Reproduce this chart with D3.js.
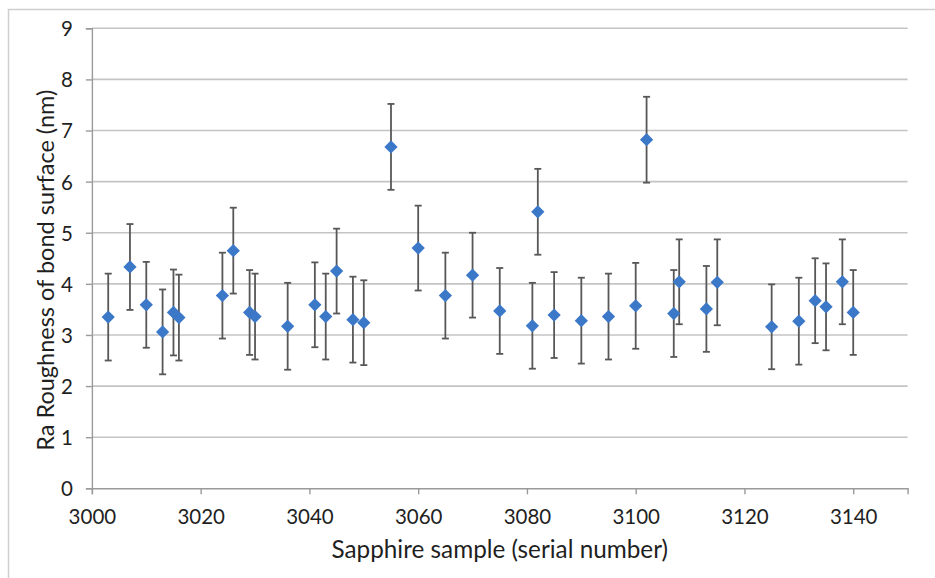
<!DOCTYPE html>
<html>
<head>
<meta charset="utf-8">
<script src="https://cdn.jsdelivr.net/npm/d3@7"></script>
<style>
  html, body { margin: 0; padding: 0; background: #fff; }
  svg { display: block; }
  text { font-family: Lato, "Open Sans", sans-serif; fill: #1f1f1f; }
</style>
</head>
<body>
<svg id="chart" width="935" height="578"></svg>
<script>
// Sapphire samples (serial numbers) and their Ra roughness of the bond surface (nm)
const serialNumbers = [3003, 3007, 3010, 3013, 3015, 3016, 3024, 3026, 3029, 3030,
  3036, 3041, 3043, 3045, 3048, 3050, 3055, 3060, 3065, 3070,
  3075, 3081, 3082, 3085, 3090, 3095, 3100, 3102, 3107, 3108,
  3113, 3115, 3125, 3130, 3133, 3135, 3138, 3140];
const roughness = [3.35, 4.33, 3.59, 3.06, 3.44, 3.34, 3.77, 4.65, 3.44, 3.36,
  3.17, 3.59, 3.36, 4.25, 3.30, 3.24, 6.68, 4.70, 3.77, 4.17,
  3.47, 3.18, 5.41, 3.39, 3.28, 3.36, 3.57, 6.82, 3.42, 4.04,
  3.51, 4.03, 3.16, 3.27, 3.67, 3.55, 4.04, 3.44];
const roughnessError = [0.85, 0.84, 0.84, 0.83, 0.84, 0.84, 0.84, 0.84, 0.83, 0.84,
  0.85, 0.83, 0.84, 0.83, 0.84, 0.83, 0.84, 0.83, 0.84, 0.83,
  0.84, 0.84, 0.84, 0.84, 0.84, 0.84, 0.84, 0.84, 0.85, 0.83,
  0.84, 0.84, 0.83, 0.85, 0.83, 0.85, 0.83, 0.83];
const xTicks = [3000, 3020, 3040, 3060, 3080, 3100, 3120, 3140];
const yTicks = [0, 1, 2, 3, 4, 5, 6, 7, 8, 9];
const xTitle = "Sapphire sample (serial number)";
const yTitle = "Ra Roughness of bond surface (nm)";

const points = serialNumbers.map((s, i) => ({ s, v: roughness[i], e: roughnessError[i] }));

const svg = d3.select("#chart");
const plot = { left: 91.9, right: 907.6, top: 28.3, bottom: 488.3 };

const x = d3.scaleLinear().domain([3000, 3150]).range([plot.left, plot.right]);
const y = d3.scaleLinear().domain([0, 9]).range([plot.bottom, plot.top]);

// chart frame
svg.append("rect")
  .attr("x", 8.5).attr("y", 9.5).attr("width", 960).attr("height", 600)
  .attr("fill", "none").attr("stroke", "#cfcfcf").attr("stroke-width", 1.5);

// horizontal gridlines
svg.append("g")
  .selectAll("line")
  .data(yTicks.filter(d => d > 0))
  .join("line")
  .attr("x1", plot.left).attr("x2", plot.right)
  .attr("y1", d => y(d)).attr("y2", d => y(d))
  .attr("stroke", "#c4c4c4").attr("stroke-width", 1.6);

// y axis
const yAxis = svg.append("g")
  .attr("transform", `translate(${plot.left},0)`)
  .call(d3.axisLeft(y).tickValues(yTicks).tickSize(6).tickPadding(13).tickFormat(d3.format("d")));
yAxis.select(".domain").attr("stroke", "#9a9a9a").attr("stroke-width", 1.4);
yAxis.selectAll(".tick line").attr("stroke", "#9a9a9a").attr("stroke-width", 1.4);
yAxis.selectAll(".tick text")
  .attr("font-family", "Lato, sans-serif").attr("font-size", 20.5)
  .attr("fill", "#1f1f1f").attr("dy", "0.36em");

// x axis
const xAxis = svg.append("g")
  .attr("transform", `translate(0,${plot.bottom})`)
  .call(d3.axisBottom(x).tickValues(xTicks).tickSize(6).tickPadding(6).tickFormat(d3.format("d")));
xAxis.select(".domain").attr("stroke", "#9a9a9a").attr("stroke-width", 1.4);
xAxis.selectAll(".tick line").attr("stroke", "#9a9a9a").attr("stroke-width", 1.4);
xAxis.selectAll(".tick text")
  .attr("font-family", "Lato, sans-serif").attr("font-size", 20.5)
  .attr("fill", "#1f1f1f").attr("dy", "1.15em");

// error bars
const bars = svg.append("g").attr("stroke", "#575757").attr("stroke-width", 1.8);
bars.selectAll("line.stem")
  .data(points).join("line").attr("class", "stem")
  .attr("x1", d => x(d.s)).attr("x2", d => x(d.s))
  .attr("y1", d => y(d.v + d.e)).attr("y2", d => y(d.v - d.e));
bars.selectAll("line.capTop")
  .data(points).join("line").attr("class", "capTop")
  .attr("x1", d => x(d.s) - 3.5).attr("x2", d => x(d.s) + 3.5)
  .attr("y1", d => y(d.v + d.e)).attr("y2", d => y(d.v + d.e));
bars.selectAll("line.capBottom")
  .data(points).join("line").attr("class", "capBottom")
  .attr("x1", d => x(d.s) - 3.5).attr("x2", d => x(d.s) + 3.5)
  .attr("y1", d => y(d.v - d.e)).attr("y2", d => y(d.v - d.e));

// diamond markers
const defs = svg.append("defs");
const blur = defs.append("filter").attr("id", "soft").attr("x", "-50%").attr("y", "-50%").attr("width", "200%").attr("height", "200%");
blur.append("feGaussianBlur").attr("stdDeviation", 0.5);

const diamond = d3.symbol().type(d3.symbolDiamond2).size(112);
svg.append("g")
  .selectAll("path")
  .data(points).join("path")
  .attr("transform", d => `translate(${x(d.s)},${y(d.v)})`)
  .attr("d", diamond)
  .attr("fill", "#3b78c8")
  .attr("filter", "url(#soft)");

// axis titles
svg.append("text")
  .attr("x", (plot.left + plot.right) / 2).attr("y", 558)
  .attr("text-anchor", "middle")
  .attr("font-size", 24.3)
  .text(xTitle);

svg.append("text")
  .attr("transform", `translate(54,${(plot.top + plot.bottom) / 2 + 12}) rotate(-90)`)
  .attr("text-anchor", "middle")
  .attr("font-size", 23.5)
  .text(yTitle);
</script>
</body>
</html>
